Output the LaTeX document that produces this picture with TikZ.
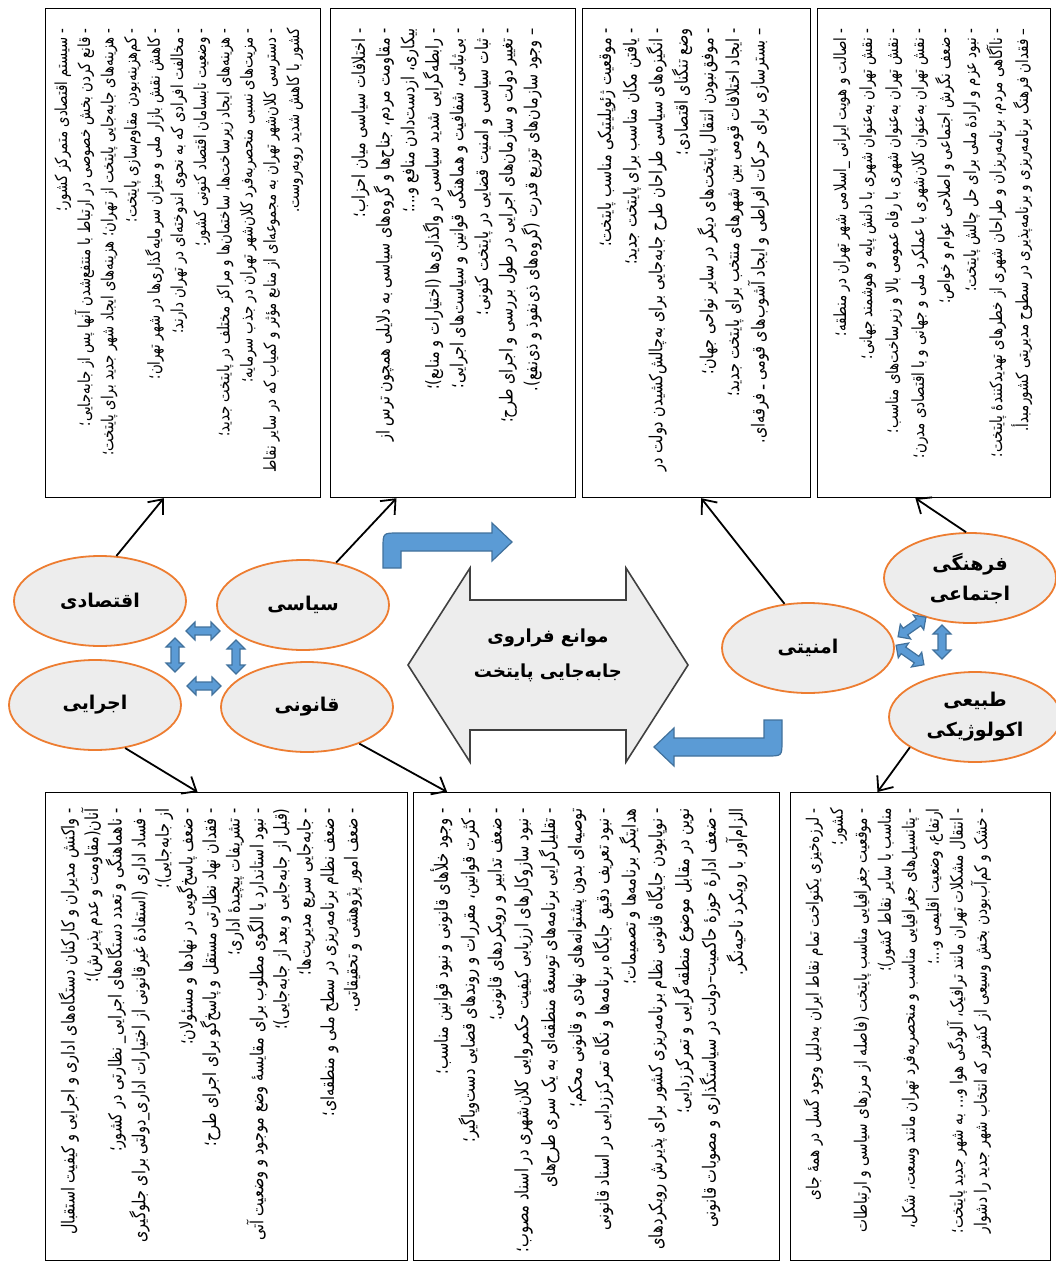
\documentclass[tikz,border=0pt]{standalone}
\usepackage{fontspec}
\usetikzlibrary{arrows.meta, calc, shapes.geometric}
\newfontfamily\arabicfont[Script=Arabic]{DejaVu Sans}
\newfontfamily\listfont[Script=Arabic, FakeStretch=0.8]{DejaVu Sans}
\TeXXeTstate=1
\definecolor{factorline}{HTML}{ED7D31}
\definecolor{factorfill}{HTML}{EDEDED}
\definecolor{bluefill}{HTML}{5B9BD5}
\definecolor{blueline}{HTML}{41719C}

\tikzset{
	factor/.style={ellipse, draw=factorline, fill=factorfill, line width=0.9pt, minimum width=86pt, minimum height=45pt, align=center, inner sep=1pt, font=\arabicfont\bfseries\fontsize{9.5}{15}\selectfont},
	listbox/.style={draw, line width=0.6pt, anchor=north west, inner sep=0pt},
	boxtext/.style 2 args={rotate=90, anchor=north east, align=right, inner sep=0pt, font=\listfont\fontsize{#1}{#2}\selectfont},
	link/.style={-{Straight Barb[length=6pt,width=10pt]}, line width=0.9pt},
	bentarrow/.style={fill=bluefill, draw=blueline, line width=0.6pt}
}

\begin{document}
\begin{tikzpicture}[x=0.5pt, y=-0.5pt]
	\useasboundingbox (0,0) rectangle (1055,1263);
	
	% boxes, top row
	\node[listbox, minimum width=137.5pt, minimum height=244.5pt] (boxEco) at (45,8) {};
	\node[listbox, minimum width=122.5pt, minimum height=244.5pt] (boxPol) at (330,8) {};
	\node[listbox, minimum width=114pt, minimum height=244.5pt] (boxSec) at (582,8) {};
	\node[listbox, minimum width=116.5pt, minimum height=244.5pt] (boxCul) at (817,8) {};
	
	% boxes, bottom row
	\node[listbox, minimum width=181pt, minimum height=234pt] (boxExe) at (45,792) {};
	\node[listbox, minimum width=183pt, minimum height=234pt] (boxLeg) at (413,792) {};
	\node[listbox, minimum width=130pt, minimum height=234pt] (boxNat) at (790,792) {};
	
	\node[boxtext={8.3}{11.6pt}] (txtEco) at (54,28) {%
		\beginR - سیستم اقتصادی متمرکز کشور؛\endR\\
		\beginR - قانع کردن بخش خصوصی در ارتباط با منتفع‌شدن آنها پس از جابه‌جایی؛\endR\\
		\beginR - هزینه‌های جابه‌جایی پایتخت از تهران؛ هزینه‌های ایجاد شهر جدید برای پایتخت؛\endR\\
		\beginR - کم‌هزینه‌بودن مقاوم‌سازی پایتخت؛\endR\\
		\beginR - کاهش نقش بازار ملی و میزان سرمایه‌گذاری‌ها در شهر تهران؛\endR\\
		\beginR - مخالفت افرادی که به نحوی اندوخته‌ای در تهران دارند؛\endR\\
		\beginR - وضعیت نابسامان اقتصاد کنونی کشور؛\endR\\
		\beginR - هزینه‌های ایجاد زیرساخت‌ها، ساختمان‌ها و مراکز مختلف در پایتخت جدید؛\endR\\
		\beginR - مزیت‌های نسبی منحصربه‌فرد کلان‌شهر تهران در جذب سرمایه؛\endR\\
		\beginR - دسترسی کلان‌شهر تهران به مجموعه‌ای از منابع مؤثر و کمیاب که در سایر نقاط\endR\\
		\beginR کشور با کاهش شدید روبه‌روست.\endR};
	
	\node[boxtext={9}{12.3pt}] (txtPol) at (351,28) {%
		\beginR - اختلافات سیاسی میان احزاب؛\endR\\
		\beginR - مقاومت مردم، جناح‌ها و گروه‌های سیاسی به دلایلی همچون ترس از\endR\\
		\beginR بیکاری، ازدست‌دادن منافع و...؛\endR\\
		\beginR - رابطه‌گرایی شدید سیاسی در واگذاری‌ها (اختیارات و منابع)؛\endR\\
		\beginR - بی‌ثباتی، شفافیت و هماهنگی قوانین و سیاست‌های اجرایی؛\endR\\
		\beginR - ثبات سیاسی و امنیت قضایی در پایتخت کنونی؛\endR\\
		\beginR - تغییر دولت و سازمان‌های اجرایی در طول بررسی و اجرای طرح؛\endR\\
		\beginR – وجود سازمان‌های توزیع قدرت (گروه‌های ذی‌نفوذ و ذی‌نفع).\endR};
	
	\node[boxtext={9}{12.8pt}] (txtSec) at (597,28) {%
		\beginR - موقعیت ژئوپلیتیکی مناسب پایتخت؛\endR\\
		\beginR - یافتن مکان مناسب برای پایتخت جدید؛\endR\\
		\beginR - انگیزه‌های سیاسی طراحان طرح جابه‌جایی برای به‌چالش‌کشیدن دولت در\endR\\
		\beginR وضع تنگنای اقتصادی؛\endR\\
		\beginR - موفق‌نبودن انتقال پایتخت‌های دیگر در سایر نواحی جهان؛\endR\\
		\beginR - ایجاد اختلافات قومی بین شهرهای منتخب برای پایتخت جدید؛\endR\\
		\beginR – بسترسازی برای حرکات افراطی و ایجاد آشوب‌های قومی ـ فرقه‌ای.\endR};
	
	\node[boxtext={8.4}{13pt}] (txtCul) at (833,28) {%
		\beginR - اصالت و هویت ایرانی \_اسلامی شهر تهران در منطقه؛\endR\\
		\beginR - نقش تهران به‌عنوان شهری با دانش پایه و هوشمند جهانی؛\endR\\
		\beginR - نقش تهران به‌عنوان شهری با رفاه عمومی بالا و زیرساخت‌های مناسب؛\endR\\
		\beginR - نقش تهران به‌عنوان کلان‌شهری با عملکرد ملی و جهانی و با اقتصادی مدرن؛\endR\\
		\beginR - ضعف نگرش اجتماعی و اصلاحی عوام و خواص؛\endR\\
		\beginR - نبود عزم و ارادهٔ ملی برای حل چالش پایتخت؛\endR\\
		\beginR - ناآگاهی مردم، برنامه‌ریزان و طراحان شهری از خطرهای تهدیدکنندهٔ پایتخت؛\endR\\
		\beginR – فقدان فرهنگ برنامه‌ریزی و برنامه‌پذیری در سطوح مدیریتی کشورمبدأ.\endR};
	
	\node[boxtext={9}{11.8pt}] (txtExe) at (58,808) {%
		\beginR - واکنش مدیران و کارکنان دستگاه‌های اداری و اجرایی و کیفیت استقبال\endR\\
		\beginR آنان(مقاومت و عدم پذیرش)؛\endR\\
		\beginR - ناهماهنگی و تعدد دستگاه‌های اجرایی\_ نظارتی در کشور؛\endR\\
		\beginR - فساد اداری (استفادهٔ غیرقانونی از اختیارات اداری\_دولتی برای جلوگیری\endR\\
		\beginR از جابه‌جایی)؛\endR\\
		\beginR - ضعف پاسخ‌گویی در نهادها و مسئولان؛\endR\\
		\beginR - فقدان نهاد نظارتی مستقل و پاسخ‌گو برای اجرای طرح؛\endR\\
		\beginR - تشریفات پیچیدهٔ اداری؛\endR\\
		\beginR - نبود استاندارد یا الگوی مطلوب برای مقایسهٔ وضع موجود و وضعیت آتی\endR\\
		\beginR (قبل از جابه‌جایی و بعد از جابه‌جایی)؛\endR\\
		\beginR - جابه‌جایی سریع مدیریت‌ها؛\endR\\
		\beginR - ضعف نظام برنامه‌ریزی در سطح ملی و منطقه‌ای؛\endR\\
		\beginR - ضعف امور پژوهشی و تحقیقاتی.\endR};
	
	\node[boxtext={9.2}{13.4pt}] (txtLeg) at (430,808) {%
		\beginR - وجود خلأهای قانونی و نبود قوانین مناسب؛\endR\\
		\beginR - کثرت قوانین، مقررات و روندهای قضایی دست‌وپاگیر؛\endR\\
		\beginR - ضعف تدابیر و رویکردهای قانونی؛\endR\\
		\beginR - نبود سازوکارهای ارزیابی کیفیت حکمروایی کلان‌شهری در اسناد مصوب؛\endR\\
		\beginR - تقلیل‌گرایی برنامه‌های توسعهٔ منطقه‌ای به یک سری طرح‌های\endR\\
		\beginR توصیه‌ای بدون پشتوانه‌های نهادی و قانونی محکم؛\endR\\
		\beginR - نبود تعریف دقیق جایگاه برنامه‌ها و نگاه تمرکززدایی در اسناد قانونی\endR\\
		\beginR هدایتگر برنامه‌ها و تصمیمات؛\endR\\
		\beginR - نوپابودن جایگاه قانونی نظام برنامه‌ریزی کشور برای پذیرش رویکردهای\endR\\
		\beginR نوین در مقابل موضوع منطقه‌گرایی و تمرکززدایی؛\endR\\
		\beginR - ضعف ادارهٔ حوزهٔ حاکمیت–دولت در سیاستگذاری و مصوبات قانونی\endR\\
		\beginR الزام‌آور با رویکرد ناحیه‌نگر.\endR};
	
	\node[boxtext={8.6}{12pt}] (txtNat) at (803,808) {%
		\beginR - لرزه‌خیزی یکنواخت تمام نقاط ایران به‌دلیل وجود گسل در همهٔ جای\endR\\
		\beginR کشور؛\endR\\
		\beginR - موقعیت جغرافیایی مناسب پایتخت (فاصله از مرزهای سیاسی و ارتباطات\endR\\
		\beginR مناسب با سایر نقاط کشور)؛\endR\\
		\beginR - پتانسیل‌های جغرافیایی مناسب و منحصربه‌فرد تهران مانند وسعت، شکل،\endR\\
		\beginR ارتفاع، وضعیت اقلیمی و...؛\endR\\
		\beginR - انتقال مشکلات تهران مانند ترافیک، آلودگی هوا و... به شهر جدید پایتخت؛\endR\\
		\beginR - خشک و کم‌آب‌بودن بخش وسیعی از کشور که انتخاب شهر جدید را دشوار\endR};
	
	% central double arrow
	\coordinate (obstc) at (548,665);
	\draw[fill=factorfill, draw=black!75, line width=0.8pt] (obstc) ++(-140,0) -- ++(62,-97) -- ++(0,32) -- ++(156,0) -- ++(0,-32) -- ++(62,97) -- ++(-62,97) -- ++(0,-32) -- ++(-156,0) -- ++(0,32) -- cycle;
	\node[align=center, font=\arabicfont\bfseries\fontsize{9}{17.5}\selectfont] (obst) at (548,655) {\beginR موانع فراروی\endR\\ \beginR جابه‌جایی پایتخت\endR};
	
	% factor ellipses
	\node[factor] (eco) at (100,601) {اقتصادی};
	\node[factor] (pol) at (303,605) {سیاسی};
	\node[factor] (exe) at (95,705) {اجرایی};
	\node[factor] (leg) at (307,707) {قانونی};
	\node[factor] (sec) at (808,648) {امنیتی};
	\node[factor] (cul) at (970,578) {فرهنگی\\ اجتماعی};
	\node[factor] (nat) at (975,717) {طبیعی\\ اکولوژیکی};
	
	% links to boxes
	\draw[link] (eco.70) -- ($(boxEco.south west)!0.43!(boxEco.south east)$);
	\draw[link] (pol.52) -- ($(boxPol.south west)!0.27!(boxPol.south east)$);
	\draw[link] (sec.118) -- ($(boxSec.south west)!0.52!(boxSec.south east)$);
	\draw[link] (cul.95) -- ($(boxCul.south west)!0.42!(boxCul.south east)$);
	\draw[link] (exe.-55) -- ($(boxExe.north west)!0.42!(boxExe.north east)$);
	\draw[link] (leg.-35) -- ($(boxLeg.north west)!0.093!(boxLeg.north east)$);
	\draw[link] (nat.205) -- ($(boxNat.north west)!0.335!(boxNat.north east)$);
	
	% blue bent arrows
	\draw[bentarrow] (383,568) -- (383,548) .. controls (383,533) .. (398,533) -- (492,533) -- (492,523) -- (512,542) -- (492,561) -- (492,551) -- (401,551) -- (401,568) -- cycle;
	\draw[bentarrow] (764,720) -- (782,720) -- (782,741) .. controls (782,756) .. (767,756) -- (674,756) -- (674,766) -- (654,747) -- (674,728) -- (674,738) -- (764,738) -- cycle;
	
	% small double arrows between factors
	\foreach \px/\py/\ang in {203/631/0, 175/655/90, 236/657/90, 204/686/0, 912/627/35, 942/642/90, 910/655/-35}
		\draw[bentarrow, shift={(\px,\py)}, rotate=\ang] (-17,0) -- (-8,9) -- (-8,4) -- (8,4) -- (8,9) -- (17,0) -- (8,-9) -- (8,-4) -- (-8,-4) -- (-8,-9) -- cycle;
\end{tikzpicture}
\end{document}
